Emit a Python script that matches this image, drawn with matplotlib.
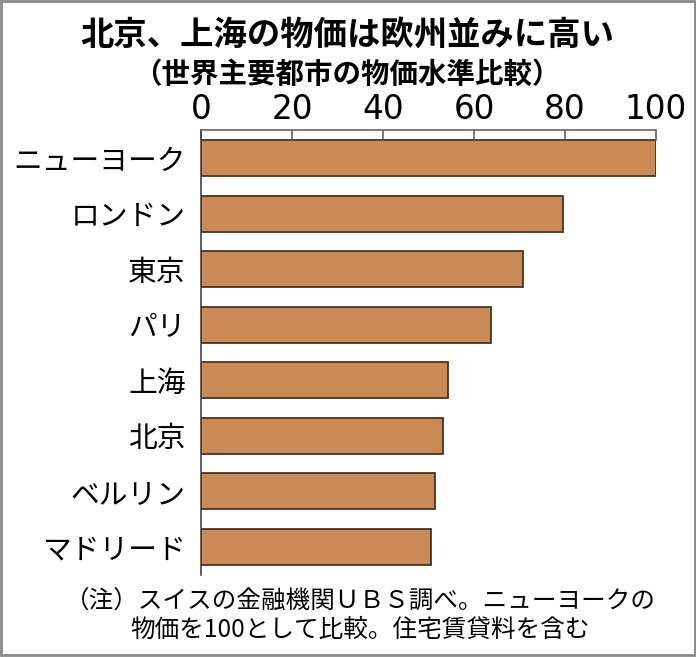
import matplotlib.pyplot as plt
from matplotlib.patches import Rectangle

plt.rcParams['font.family'] = ['Noto Sans CJK JP', 'DejaVu Sans']

# data (New York = 100)
cities = ['ニューヨーク', 'ロンドン', '東京', 'パリ', '上海', '北京', 'ベルリン', 'マドリード']
price_index = [100, 79.6, 70.7, 63.8, 54.3, 53.2, 51.4, 50.5]
ticks = [0, 20, 40, 60, 80, 100]

title = '北京、上海の物価は欧州並みに高い'
subtitle = '（世界主要都市の物価水準比較）'
note = '（注）スイスの金融機関ＵＢＳ調べ。ニューヨークの\n物価を100として比較。住宅賃貸料を含む'

fig = plt.figure(figsize=(6.96, 6.57), dpi=100)
ax = fig.add_axes([201 / 696, 1 - 575 / 657, 455 / 696, 445 / 657])

pos = list(range(len(cities)))
ax.barh(pos, price_index, height=0.65, color='#C98A55', edgecolor='#4A3422', linewidth=1.3)

ax.set_xlim(0, 100)
ax.set_ylim(len(cities) - 0.49, -0.51)
ax.set_xticks(ticks)
ax.set_xticklabels([str(t) for t in ticks], family='DejaVu Sans', fontsize=23.5)
ax.xaxis.tick_top()
ax.tick_params(axis='x', direction='in', length=8, width=1.1, color='#555555', pad=3)
ax.set_yticks(pos)
ax.set_yticklabels(cities, fontsize=20.7)
ax.tick_params(axis='y', length=0, pad=11)

for s in ['right', 'bottom']:
    ax.spines[s].set_visible(False)
ax.spines['top'].set_color('#666666')
ax.spines['top'].set_linewidth(1.2)
ax.spines['left'].set_color('#444444')
ax.spines['left'].set_linewidth(1.2)

fig.text(347 / 696, 1 - 35 / 657, title, ha='center', va='center', fontsize=24, fontweight='bold')
fig.text(347 / 696, 1 - 75 / 657, subtitle, ha='center', va='center', fontsize=20.5, fontweight='bold')
fig.text(360 / 696, 1 - 615 / 657, note, ha='center', va='center', fontsize=17.7, linespacing=1.15)

# frame around the whole picture
fig.patches.append(Rectangle((0.002, 0.003), 0.996, 0.995, transform=fig.transFigure,
                             fill=False, edgecolor='#8a8a8a', linewidth=2))

fig.savefig('out.png', dpi=100)
